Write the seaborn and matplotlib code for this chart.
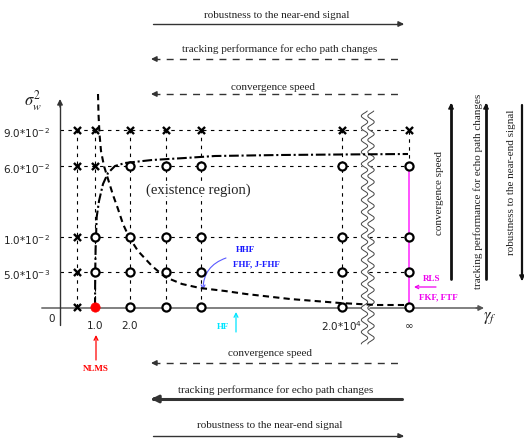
import numpy as np
import pandas as pd
import matplotlib
matplotlib.use("Agg")
import matplotlib.pyplot as plt
import seaborn as sns

sns.set_theme(style="white")
plt.rcParams["font.family"] = ["Liberation Serif", "DejaVu Serif"]
plt.rcParams["lines.scale_dashes"] = False

# ---------------- data ----------------
gamma_labels = ["", "1.0", "2.0", "", "", "2.0*10$^{4}$", "∞"]
sigma_labels = ["0", "5.0*10$^{-3}$", "1.0*10$^{-2}$", "6.0*10$^{-2}$", "9.0*10$^{-2}$"]
# status per (sigma row from bottom, gamma column): x = not exist, o = exists, n = NLMS
status = [
    ["x", "n", "o", "o", "o", "o", "o"],
    ["x", "o", "o", "o", "o", "o", "o"],
    ["x", "o", "o", "o", "o", "o", "o"],
    ["x", "x", "o", "o", "o", "o", "o"],
    ["x", "x", "x", "x", "x", "x", "x"],
]
# boundary curves (schematic, pixel frame)
hyp_x = [98, 98.5, 99.5, 101, 104, 108, 113, 118, 123, 129, 138, 152, 165, 182, 200, 225, 246, 290, 340, 377, 405]
hyp_y = [95, 115, 135, 152, 167, 180, 196, 210, 225, 238, 252, 267, 278, 285, 289, 292, 295, 300, 304, 306, 306]
dd_x = [95, 95.2, 95.6, 96.7, 99, 103, 108, 115, 125, 152, 185, 215, 280, 340, 408]
dd_y = [308, 275, 250, 218, 202, 185, 174, 167, 164, 161, 159, 157, 156, 155.5, 155]
top_texts = ["robustness to the near-end signal",
             "tracking performance for echo path changes",
             "convergence speed"]
bottom_texts = ["convergence speed",
                "tracking performance for echo path changes",
                "robustness to the near-end signal"]
right_texts = ["convergence speed",
               "tracking performance for echo path changes",
               "robustness to the near-end signal"]

# ---------------- layout (pixel frame) ----------------
col_px = [77, 95, 130, 166, 201, 342, 409]
row_px = [308, 273, 238, 167, 131]

fig = plt.figure(figsize=(5.24, 4.39), dpi=100)
ax = fig.add_axes([0, 0, 1, 1])
ax.set_xlim(0, 524)
ax.set_ylim(439, 0)
ax.axis("off")

TXT = "#222222"
grid_ls = (0, (2.5, 3.2))

# grid dashed lines
for r in row_px[1:]:
    ax.plot([60, col_px[-1]], [r, r], color="black", lw=0.8, ls=grid_ls, zorder=2)
for c in col_px:
    top = row_px[-1]
    bottom = row_px[0] if c != col_px[-1] else row_px[3]
    ax.plot([c, c], [bottom, top], color="black", lw=0.8, ls=grid_ls, zorder=2)

# axes
ax.plot([42, 478], [309, 309], color="#808080", lw=1.4, zorder=3)
ax.annotate("", xy=(484, 309), xytext=(476, 309),
            arrowprops=dict(arrowstyle="-|>", mutation_scale=8, color="#555555", lw=1, shrinkA=0, shrinkB=0))
ax.plot([60, 60], [326, 106], color="#333333", lw=1.0, zorder=3)
ax.annotate("", xy=(60, 100), xytext=(60, 108),
            arrowprops=dict(arrowstyle="-|>", mutation_scale=8, color="#333333", lw=1, shrinkA=0, shrinkB=0))

# wavy break
yy = np.linspace(112, 345, 400)
wl = 364.5 + 3.2 * np.sin(2 * np.pi * yy / 12.0)
wr = wl + 6.5
ax.fill_betweenx(yy, wl, wr, color="white", zorder=4)
ax.plot(wl, yy, color="#444444", lw=0.7, zorder=5)
ax.plot(wr, yy, color="#444444", lw=0.7, zorder=5)

# magenta line (RLS family)
ax.plot([col_px[-1], col_px[-1]], [row_px[3], row_px[0]], color="#ff44ff", lw=1.3, zorder=3)

# boundary curves
ax.plot(hyp_x, hyp_y, color="black", lw=1.5, ls=(0, (4.5, 3)), zorder=6)
ax.plot(dd_x, dd_y, color="black", lw=1.5, ls=(0, (7, 2, 1.5, 2)), zorder=6)

# markers
recs = []
for i, row in enumerate(status):
    for j, s in enumerate(row):
        recs.append(dict(px=col_px[j], py=row_px[i], status=s))
df = pd.DataFrame(recs)
sns.scatterplot(data=df[df.status == "x"], x="px", y="py", marker="x", color="black",
                s=26, linewidth=1.7, ax=ax, zorder=7, legend=False)
sns.scatterplot(data=df[df.status == "o"], x="px", y="py", marker="o", color="white",
                edgecolor="black", s=34, linewidth=1.6, ax=ax, zorder=7, legend=False)
sns.scatterplot(data=df[df.status == "n"], x="px", y="py", marker="o", color="#ff0000",
                edgecolor="#ff0000", s=45, linewidth=0.5, ax=ax, zorder=8, legend=False)
ax.set_xlim(0, 524)
ax.set_ylim(439, 0)
ax.set_xlabel("")
ax.set_ylabel("")

# tick labels
for r, lab in zip(row_px, sigma_labels):
    if lab == "0":
        ax.text(52, 319, lab, ha="center", va="center", fontsize=7.5, color=TXT,
                family="DejaVu Sans")
    else:
        ax.text(50, r + 2, lab, ha="right", va="center", fontsize=7.5, color=TXT,
                family="DejaVu Sans", math_fontfamily="dejavusans")
for c, lab in zip(col_px, gamma_labels):
    if lab:
        ax.text(c, 326, lab, ha="center", va="center", fontsize=7.5, color=TXT,
                family="DejaVu Sans", math_fontfamily="dejavusans")

ax.text(33, 101, r"$\sigma_w^2$", ha="center", va="center", fontsize=12, color=TXT,
        math_fontfamily="stix")
ax.text(490, 318, r"$\gamma_f$", ha="center", va="center", fontsize=12, color=TXT,
        math_fontfamily="stix")

ax.text(198, 190, "(existence region)", ha="center", va="center", fontsize=10.5, color=TXT,
        zorder=6.5, bbox=dict(facecolor="white", edgecolor="none", pad=0.5))

# annotations
ax.text(246, 250, "HHF", ha="center", va="center", fontsize=6.5, color="#1a1aff", weight="bold")
ax.text(256, 264, "FHF, J-FHF", ha="center", va="center", fontsize=6.5, color="#1a1aff", weight="bold")
ax.annotate("", xy=(203, 291), xytext=(226, 259),
            arrowprops=dict(arrowstyle="->", mutation_scale=7, color="#5a5aff", lw=0.8,
                            connectionstyle="arc3,rad=0.35", shrinkA=0, shrinkB=0))

ax.text(223, 327, "HF", ha="center", va="center", fontsize=6.5, color="#00e5ff", weight="bold")
ax.annotate("", xy=(236, 313), xytext=(236, 333),
            arrowprops=dict(arrowstyle="->", mutation_scale=7, color="#00e5ff", lw=0.9,
                            shrinkA=0, shrinkB=0))

ax.text(96, 369, "NLMS", ha="center", va="center", fontsize=6.5, color="#ff0000", weight="bold")
ax.annotate("", xy=(96, 336), xytext=(96, 361),
            arrowprops=dict(arrowstyle="->", mutation_scale=7, color="#ff0000", lw=0.9,
                            shrinkA=0, shrinkB=0))

ax.text(432, 279, "RLS", ha="center", va="center", fontsize=6.5, color="#ee00ee", weight="bold")
ax.text(438, 297, "FKF, FTF", ha="center", va="center", fontsize=6.5, color="#ee00ee", weight="bold")
ax.annotate("", xy=(414, 288), xytext=(436, 288),
            arrowprops=dict(arrowstyle="->", mutation_scale=6, color="#ee00ee", lw=0.9,
                            shrinkA=0, shrinkB=0))


def harrow(y, direction, dashed, lw):
    x0, x1 = 153, 402
    ls = (0, (5, 4.5)) if dashed else "-"
    ax.plot([x0, x1], [y, y], color="#333333", lw=lw, ls=ls, zorder=3)
    tip = x1 + 2 if direction > 0 else x0 - 2
    ax.annotate("", xy=(tip, y), xytext=(tip - 6 * direction, y),
                arrowprops=dict(arrowstyle="-|>", mutation_scale=6 + 2 * lw, color="#333333",
                                lw=lw, shrinkA=0, shrinkB=0))


def varrow(x, direction, lw):
    y0, y1 = 280, 106
    ax.plot([x, x], [y0, y1], color="#111111", lw=lw, zorder=3)
    tip = y1 - 2 if direction > 0 else y0 + 2
    ax.annotate("", xy=(x, tip), xytext=(x, tip + 6 * direction),
                arrowprops=dict(arrowstyle="-|>", mutation_scale=8, color="#111111",
                                lw=1, shrinkA=0, shrinkB=0))


# top arrows
harrow(25, 1, False, 1.0)
harrow(60, -1, True, 1.0)
harrow(95, -1, True, 1.0)
for y, t, xc in zip([15, 49, 87], top_texts, [277, 280, 273]):
    ax.text(xc, y, t, ha="center", va="center", fontsize=8, color=TXT)

# bottom arrows
harrow(364, -1, True, 1.0)
harrow(400, -1, False, 2.2)
harrow(437, 1, False, 1.0)
for y, t, xc in zip([354, 390, 426], bottom_texts, [270, 276, 270]):
    ax.text(xc, y, t, ha="center", va="center", fontsize=8, color=TXT)

# right arrows
varrow(451, 1, 2.0)
varrow(486, 1, 2.0)
varrow(522, -1, 1.6)
for x, t, yc in zip([440, 478, 512], right_texts, [193, 191, 182]):
    ax.text(x, yc, t, ha="center", va="center", fontsize=8, color=TXT, rotation=90)

fig.savefig("out.png", dpi=100)
